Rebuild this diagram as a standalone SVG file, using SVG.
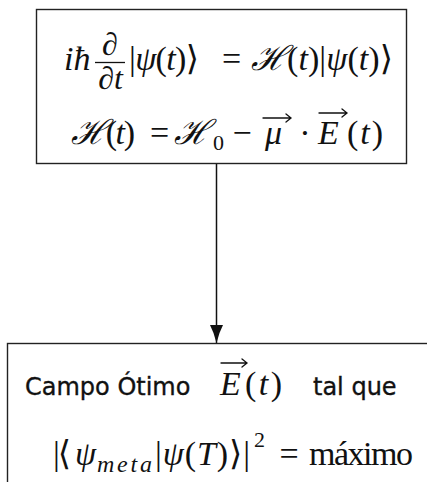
<svg xmlns="http://www.w3.org/2000/svg" width="427" height="482" viewBox="0 0 427 482">
<style>
.box{fill:#fff;stroke:#222;stroke-width:1.4}
.m{font-family:"Liberation Serif","DejaVu Serif",serif;font-size:34px;fill:#111}
.i{font-style:italic}
.s{font-family:"DejaVu Sans",sans-serif;font-size:24px;fill:#111;stroke:#111;stroke-width:0.35}
.acc{fill:none;stroke:#111;stroke-width:1.3;stroke-linecap:round}
.conn{stroke:#111;stroke-width:1.5;fill:none}
</style>
<defs>
<marker id="arr" markerUnits="userSpaceOnUse" markerWidth="20" markerHeight="14" refX="18" refY="7" orient="auto">
<path d="M0,0.5 L8,4 L18,7 L8,10 L0,13.5 Z" fill="#111"/>
</marker>
</defs>
<rect width="427" height="482" fill="#fff"/>
<g id="connectors">
<line class="conn" x1="216.5" y1="164" x2="216.5" y2="343" marker-end="url(#arr)"/>
</g>
<g id="node-schrodinger">
<rect class="box" x="36.5" y="9.5" width="370" height="154"/>
<text class="m i" x="64" y="70">iħ</text>
<text class="m" x="110" y="55" text-anchor="middle" style="font-size:32px">∂</text>
<line x1="95" y1="62.5" x2="125" y2="62.5" stroke="#111" stroke-width="1.3"/>
<text class="m" x="110.5" y="89" text-anchor="middle" style="font-size:32px">∂<tspan class="i">t</tspan></text>
<text class="m" x="129" y="70" textLength="70">|<tspan class="i">ψ</tspan>(<tspan class="i">t</tspan>)⟩</text>
<text class="m" x="231.5" y="70" text-anchor="middle">=</text>
<text class="m" x="251" y="70" textLength="142"><tspan class="i">ℋ</tspan>(<tspan class="i">t</tspan>)|<tspan class="i">ψ</tspan>(<tspan class="i">t</tspan>)⟩</text>
<text class="m" x="71" y="144" textLength="64"><tspan class="i">ℋ</tspan>(<tspan class="i">t</tspan>)</text>
<text class="m" x="159.5" y="144" text-anchor="middle">=</text>
<text class="m i" x="174" y="144">ℋ</text>
<text class="m" x="213" y="150" style="font-size:22px">0</text>
<text class="m" x="242" y="144" text-anchor="middle">−</text>
<text class="m i" x="265" y="144">μ</text>
<path class="acc" d="M263,118 H291 M286,114 L291,118 L286,122"/>
<text class="m" x="305" y="144" text-anchor="middle">·</text>
<text class="m i" x="318" y="144">E</text>
<path class="acc" d="M319,113 H347 M342,109 L347,113 L342,117"/>
<text class="m" x="347" y="144" textLength="36">(<tspan class="i">t</tspan>)</text>
</g>
<g id="node-optimal-field">
<rect class="box" x="7.5" y="343.5" width="430" height="150"/>
<text class="s" x="25" y="395">Campo Ótimo</text>
<text class="m i" x="220" y="395">E</text>
<path class="acc" d="M221,363 H247 M242,359 L247,363 L242,367"/>
<text class="m" x="245" y="395" textLength="37">(<tspan class="i">t</tspan>)</text>
<text class="s" x="313" y="395">tal que</text>
<text class="m" x="53" y="465" textLength="18">|⟨</text>
<text class="m i" x="75" y="465">ψ</text>
<text class="m i" x="97" y="472" style="font-size:24px" textLength="55">meta</text>
<text class="m" x="155" y="465" textLength="95">|<tspan class="i">ψ</tspan>(<tspan class="i">T</tspan>)⟩|</text>
<text class="m" x="254" y="447" style="font-size:22px">2</text>
<text class="m" x="289" y="465" text-anchor="middle">=</text>
<text class="m" x="309" y="465" textLength="104">máximo</text>
</g>
</svg>
